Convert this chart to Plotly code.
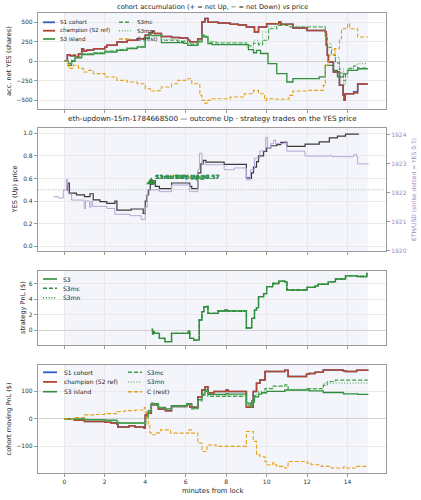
import plotly.graph_objects as go

# ---------------- data ----------------
X_TICKS = [0, 2, 4, 6, 8, 10, 12, 14]
WINDOW = [0, 15]            # shaded market window (minutes)
STRIKE_YES = 0.5

# panel 1 : accumulated net YES shares per cohort
champ_acc_t = [0.00, 0.15, 0.30, 0.45, 0.55, 0.70, 0.86, 0.95, 1.10, 1.45, 2.00, 2.10, 2.60, 3.10, 3.60,
               4.00, 4.20, 4.35, 4.45, 4.80, 5.30, 5.70, 6.10, 6.20, 6.60, 6.80, 6.95, 7.10, 7.60, 8.20,
               8.60, 9.00, 9.40, 9.60, 10.00, 10.60, 10.70, 11.30, 12.00, 12.90, 12.95, 13.00, 13.05, 13.30,
               13.60, 13.78, 13.83, 13.88, 14.30, 14.50, 15.00]
champ_acc_v = [0, 85, 70, 78, 55, 93, 162, 128, 145, 162, 183, 205, 248, 269, 290,
               333, 367, 385, 355, 318, 305, 300, 270, 250, 290, 504, 550, 500, 490, 475,
               465, 440, 376, 440, 482, 504, 474, 427, 395, 380, 205, 77, -9, -137,
               -308, -432, -500, -415, -405, -290, -290]
s1_acc_t = champ_acc_t
s1_acc_v = [0, 85, 70, 78, 55, 93, 162, 128, 145, 162, 183, 205, 248, 269, 290,
            333, 367, 385, 355, 318, 305, 300, 270, 250, 290, 504, 550, 500, 490, 475,
            465, 440, 376, 440, 482, 504, 474, 427, 395, 380, 205, 77, -9, -137,
            -308, -432, -500, -415, -390, -290, -290]
s3_acc_t = [0.00, 0.20, 0.36, 0.53, 0.86, 1.44, 2.00, 2.60, 3.10, 3.60, 4.00, 4.20, 4.30, 4.80, 5.90,
            6.10, 6.60, 6.80, 6.90, 7.10, 7.30, 9.10, 9.35, 9.50, 9.70, 10.07, 10.50, 11.00, 11.30, 12.60,
            12.90, 13.30, 13.50, 13.80, 14.00, 14.50, 15.00]
s3_acc_v = [0, -51, 0, 43, 85, 98, 119, 140, 162, 183, 300, 345, 330, 240, 230,
            205, 248, 333, 311, 226, 215, 150, 110, 140, 100, -30, -159, -265, -222, -200,
            -51, -115, -200, -160, -115, -95, -95]
mc_acc_t = [0.00, 0.20, 0.36, 0.53, 0.86, 1.44, 2.00, 2.60, 3.10, 3.60, 4.00, 4.20, 4.30, 4.80, 5.60,
            6.10, 6.60, 6.80, 6.90, 7.10, 7.50, 9.00, 9.35, 9.60, 9.80, 10.10, 10.50, 11.15, 12.90, 13.00,
            13.20, 13.40, 13.60, 13.80, 13.90, 14.00, 14.30, 14.50, 15.00]
mc_acc_v = [0, -30, 10, 55, 95, 110, 130, 150, 170, 190, 300, 350, 330, 270, 255,
            220, 260, 340, 320, 245, 235, 200, 230, 210, 270, 418, 461, 440, 300, 180,
            80, -20, -150, -250, -150, -90, -60, -85, -85]
mn_acc_t = mc_acc_t
mn_acc_v = [0, -20, 15, 60, 100, 115, 135, 155, 175, 195, 310, 365, 340, 280, 265,
            230, 265, 345, 325, 255, 245, 183, 269, 230, 376, 440, 482, 450, 350, 230,
            150, 50, -100, -300, -200, -100, -50, -30, -30]
c_acc_t = [0.00, 0.20, 0.30, 0.45, 0.70, 0.94, 1.20, 1.44, 2.00, 2.60, 3.10, 3.60, 4.00, 4.25, 4.50,
           4.80, 5.30, 5.60, 6.00, 6.30, 6.70, 6.80, 6.95, 7.05, 7.20, 8.20, 8.90, 9.35, 9.60, 9.90,
           10.00, 10.50, 11.10, 11.30, 12.10, 12.80, 12.90, 13.05, 13.10, 13.35, 13.60, 13.70, 13.90, 14.00,
           14.10, 14.50, 15.00]
c_acc_v = [0, -73, -90, -51, -90, -137, -116, -158, -201, -244, -266, -287, -351, -380, -375,
           -330, -287, -244, -223, -287, -437, -500, -540, -500, -479, -457, -415, -372, -415, -500,
           -479, -486, -437, -380, -372, -308, -51, 0, 77, 162, 290, 418, 440, 482,
           418, 311, 311]

# panel 2 : YES price and ETH/USD
yes_t = [0.12, 0.18, 0.25, 0.60, 1.00, 1.27, 1.43, 1.76, 2.10, 2.50, 2.60, 3.30, 3.90, 4.00, 4.08,
         4.15, 4.25, 4.40, 4.50, 4.70, 5.30, 6.20, 6.30, 6.60, 6.75, 6.87, 7.00, 7.90, 9.00, 9.20,
         9.25, 9.35, 9.50, 9.60, 9.85, 10.00, 10.20, 10.50, 10.70, 11.00, 11.90, 12.60, 13.10, 13.50,
         13.90, 14.53]
yes_v = [0.50, 0.56, 0.47, 0.455, 0.44, 0.465, 0.41, 0.395, 0.38, 0.40, 0.32, 0.33, 0.29, 0.40, 0.45,
         0.50, 0.55, 0.58, 0.53, 0.51, 0.56, 0.53, 0.51, 0.65, 0.73, 0.76, 0.745, 0.725, 0.605, 0.60,
         0.65, 0.70, 0.75, 0.80, 0.84, 0.87, 0.89, 0.90, 0.92, 0.885, 0.905, 0.925, 0.96, 0.975,
         0.992, 0.988]
eth_t = [-0.54, -0.30, -0.05, 0.10, 0.15, 0.20, 0.36, 0.98, 1.05, 1.25, 1.32, 1.40, 2.10, 2.50, 3.25,
         3.80, 4.00, 4.10, 4.20, 4.70, 5.30, 6.20, 6.60, 6.68, 6.80, 7.00, 7.90, 8.40, 9.00, 9.20,
         9.40, 9.67, 9.95, 10.05, 10.20, 10.35, 10.45, 10.90, 11.00, 11.90, 13.10, 13.20, 14.30, 14.45,
         14.50, 15.02]
eth_v = [1921.87, 1921.82, 1922.10, 1922.47, 1922.30, 1921.96, 1921.75, 1921.46, 1921.72, 1921.50,
         1921.70, 1921.53, 1921.46, 1921.26, 1921.21, 1921.08, 1921.50, 1921.92, 1922.10, 1922.04,
         1922.27, 1922.04, 1922.80, 1923.37, 1923.00, 1922.97, 1922.80, 1922.86, 1922.45, 1922.80,
         1923.20, 1923.45, 1923.92, 1923.55, 1923.70, 1923.82, 1923.70, 1923.78, 1923.44, 1923.27,
         1923.30, 1923.25, 1923.32, 1923.25, 1923.00, 1922.98]
trade_t = [4.30]
trade_v = [0.57]
trade_labels = ["S3 BUY Up@0.57", "S3mc BUY Up@0.57", "S3mn BUY Up@0.57"]

# panel 3 : strategy PnL (S3, S3mc, S3mn coincide)
strat_t = [4.32, 4.36, 4.40, 4.45, 4.70, 4.97, 5.30, 6.13, 6.20, 6.40, 6.67, 6.80, 6.90, 7.03, 7.10,
           7.60, 7.95, 8.05, 8.90, 9.00, 9.20, 9.26, 9.40, 9.50, 9.60, 9.85, 10.00, 10.30, 10.60, 10.90,
           11.00, 12.00, 12.40, 12.55, 13.05, 13.40, 13.90, 14.50, 14.95, 15.00]
strat_v = [0.09, -0.5, -0.2, -0.43, -1.07, -1.5, -0.43, -0.15, -1.07, -1.3, 1.29, 2.37, 3.0, 3.05, 2.15,
           2.45, 2.6, 2.45, 2.5, 0.26, 0.3, 1.5, 2.6, 2.9, 4.3, 4.7, 5.6, 6.0, 6.3, 6.2,
           5.16, 5.5, 5.7, 5.9, 6.2, 6.58, 6.97, 6.9, 7.3, 7.3]
STRATS = ["S3", "S3mc", "S3mn"]

# panel 4 : cohort moving PnL
champ_pnl_t = [0.0, 0.5, 1.0, 1.5, 2.0, 2.3, 2.6, 2.65, 3.2, 3.5, 3.95, 4.0, 4.07, 4.3, 4.65,
               5.0, 5.3, 6.05, 6.2, 6.6, 6.8, 6.95, 7.1, 7.4, 8.0, 8.1, 9.0, 9.34, 9.5, 9.67,
               9.92, 10.9, 11.06, 11.97, 12.1, 12.4, 12.8, 13.78, 13.9, 14.45, 15.0]
champ_pnl_v = [0, -5, -9.7, -10, -12, -15, -19, -30, -25, -30, -34, 14.5, 20, 51, 36,
               29.7, 44.8, 52, 42, 80, 105, 117, 95, 100, 105, 100, 42, 100, 130, 141,
               172, 177, 154, 162, 165, 170, 178, 175, 172, 177, 175]
s1_pnl_t = champ_pnl_t
s1_pnl_v = champ_pnl_v
s3_pnl_t = [0.0, 1.0, 2.0, 2.6, 2.7, 4.0, 4.02, 4.15, 4.3, 4.4, 4.65, 5.0, 5.3, 6.05, 6.3,
            6.6, 6.8, 6.95, 7.1, 8.0, 8.1, 9.0, 9.2, 9.26, 9.4, 9.6, 9.75, 10.0, 10.9, 12.1,
            12.8, 13.8, 14.5, 15.0]
s3_pnl_v = [0, -3, -5, -13, -15, -18.8, 8.5, 30, 57, 55, 42, 36, 48, 55, 39,
            70, 90, 105, 89, 92, 90, 57, 45, 65, 80, 90, 95, 100, 105, 102,
            96, 91, 89, 88]
mc_pnl_t = [0.0, 1.0, 2.0, 2.6, 2.7, 4.0, 4.02, 4.15, 4.3, 4.4, 4.65, 5.0, 5.3, 6.05, 6.3,
            6.6, 6.8, 6.95, 7.1, 8.0, 8.1, 9.0, 9.2, 9.26, 9.4, 9.6, 9.92, 10.3, 10.9, 11.06,
            12.0, 12.8, 13.0, 13.4, 15.0]
mc_pnl_v = [0, -4, -7, -14, -17, -20, 6, 28, 55, 52, 40, 33, 45, 52, 36,
            65, 85, 100, 82, 84, 82, 50, 42, 60, 85, 95, 110, 119, 124, 105,
            110, 122, 136, 141, 141]
mn_pnl_t = [0.0, 1.0, 2.0, 2.6, 2.7, 4.0, 4.02, 4.15, 4.3, 4.4, 4.65, 5.0, 5.3, 6.05, 6.3,
            6.6, 6.8, 6.95, 7.1, 8.0, 8.1, 9.0, 9.2, 9.26, 9.4, 9.6, 9.92, 10.3, 10.9, 11.06,
            12.0, 12.8, 15.0]
mn_pnl_v = [0, -3, -6, -12, -16, -19, 7, 29, 56, 53, 41, 34, 46, 53, 37,
            67, 87, 102, 84, 86, 84, 52, 44, 62, 88, 100, 112, 118, 120, 108,
            110, 130, 128]
c_pnl_t = [0.0, 0.5, 1.0, 1.5, 2.0, 2.6, 3.0, 3.5, 3.95, 4.0, 4.07, 4.15, 4.23, 4.3, 4.5,
           4.75, 5.25, 6.15, 6.3, 6.6, 6.8, 7.05, 7.5, 9.0, 9.34, 9.5, 9.67, 9.92, 10.0, 10.3,
           10.4, 10.5, 10.9, 11.06, 12.0, 12.2, 12.7, 13.2, 13.8, 13.9, 14.4, 15.0]
c_pnl_v = [0, 5, 14.5, 16, 19, 27, 30, 32, 41, 25, 2.4, -20, -51, -58, -51,
           -40, -52, -40, -52, -88, -119, -95, -100, -46, -82, -131, -138, -155, -167, -160,
           -167, -173, -179, -155, -161, -167, -173, -179, -175, -179, -173, -173]

SERIES = ["S1 cohort", "champion (S2 ref)", "S3 island", "S3mc", "S3mn", "C (rest)"]

# ---------------- styling ----------------
FONT = "DejaVu Sans"
STYLE = {
    "S1 cohort":         dict(color="#2a5fc4", width=1.5, dash="solid"),
    "champion (S2 ref)": dict(color="#b5462c", width=1.5, dash="solid"),
    "S3 island":         dict(color="#2f8d3d", width=1.3, dash="solid"),
    "S3mc":              dict(color="#3f9d4a", width=1.1, dash="4px,2px"),
    "S3mn":              dict(color="#62b862", width=1.1, dash="1px,1.8px"),
    "C (rest)":          dict(color="#e3a21a", width=1.1, dash="4px,2px"),
}
STRAT_STYLE = {
    "S3":   dict(color="#2f8d3d", width=1.3, dash="solid"),
    "S3mc": dict(color="#2f8d3d", width=1.3, dash="4px,2px"),
    "S3mn": dict(color="#2f8d3d", width=1.3, dash="1px,1.8px"),
}
GRID = "#e9e9e9"
FRAME = "#9a9a9a"
SHADE = "#f3f5fa"
PURPLE = "#9c86c6"

W, H = 421, 500
ML, MR, MT, MB = 38, 35, 13, 27
PW, PH = W - ML - MR, H - MT - MB


def px_x(px):
    return (px - ML) / PW


def px_y(py):
    return (H - MB - py) / PH


DOM = {
    1: [px_y(109), px_y(13)],
    2: [px_y(251), px_y(128)],
    3: [px_y(345.3), px_y(270.7)],
    4: [0.0, px_y(365)],
}

fig = go.Figure()


def add_line(t, v, xa, ya, style, name):
    fig.add_trace(go.Scatter(
        x=t, y=v, mode="lines", line_shape="hv", name=name, showlegend=False,
        xaxis=xa, yaxis=ya, hoverinfo="skip",
        line=dict(color=style["color"], width=style["width"], dash=style["dash"])))


# panel 1
p1 = {
    "S1 cohort": (s1_acc_t, s1_acc_v),
    "champion (S2 ref)": (champ_acc_t, champ_acc_v),
    "S3 island": (s3_acc_t, s3_acc_v),
    "S3mc": (mc_acc_t, mc_acc_v),
    "S3mn": (mn_acc_t, mn_acc_v),
    "C (rest)": (c_acc_t, c_acc_v),
}
for name in SERIES:
    t, v = p1[name]
    add_line(t, v, "x", "y", STYLE[name], name)

# panel 2
fig.add_trace(go.Scatter(x=eth_t, y=eth_v, mode="lines", line_shape="hv", name="ETH/USD",
                         showlegend=False, xaxis="x2", yaxis="y5", hoverinfo="skip",
                         line=dict(color="#b7a6d8", width=1.0)))
fig.add_trace(go.Scatter(x=yes_t, y=yes_v, mode="lines", line_shape="hv", name="YES",
                         showlegend=False, xaxis="x2", yaxis="y2", hoverinfo="skip",
                         line=dict(color="#3a3a3a", width=1.2)))
fig.add_trace(go.Scatter(x=trade_t, y=trade_v, mode="markers", name="trades", showlegend=False,
                         xaxis="x2", yaxis="y2", hoverinfo="skip",
                         marker=dict(symbol="triangle-up", size=9, color="#2f8d3d")))
for lab in trade_labels:
    fig.add_annotation(x=trade_t[0], y=trade_v[0], xref="x2", yref="y2", text="<b>%s</b>" % lab,
                       showarrow=False, xanchor="left", yanchor="middle", xshift=2, yshift=4,
                       font=dict(family=FONT, size=5.8, color="#2f8d3d"))

# panel 3
for name in ["S3mn", "S3mc", "S3"]:
    add_line(strat_t, strat_v, "x3", "y3", STRAT_STYLE[name], name)

# panel 4
p4 = {
    "S1 cohort": (s1_pnl_t, s1_pnl_v),
    "champion (S2 ref)": (champ_pnl_t, champ_pnl_v),
    "S3 island": (s3_pnl_t, s3_pnl_v),
    "S3mc": (mc_pnl_t, mc_pnl_v),
    "S3mn": (mn_pnl_t, mn_pnl_v),
    "C (rest)": (c_pnl_t, c_pnl_v),
}
for name in SERIES:
    t, v = p4[name]
    add_line(t, v, "x4", "y4", STYLE[name], name)

# ---------------- axes ----------------
tickfont = dict(family=FONT, size=6, color="#333333")
xcommon = dict(range=[-1.3, 15.9], tickvals=X_TICKS, showgrid=True, gridcolor=GRID, gridwidth=0.8,
               showline=True, mirror=True, linecolor=FRAME, linewidth=1.2, ticks="outside",
               ticklen=3, tickcolor=FRAME, zeroline=False, tickfont=tickfont)
ycommon = dict(showgrid=True, gridcolor=GRID, gridwidth=0.8, showline=True, mirror=True,
               linecolor=FRAME, linewidth=1.2, ticks="outside", ticklen=3, tickcolor=FRAME,
               tickfont=tickfont, zeroline=True, zerolinecolor="#d2d2d2", zerolinewidth=1)

fig.update_layout(
    xaxis=dict(xcommon, anchor="y", showticklabels=False),
    xaxis2=dict(xcommon, anchor="y2", matches="x", showticklabels=False),
    xaxis3=dict(xcommon, anchor="y3", matches="x", showticklabels=False),
    xaxis4=dict(xcommon, anchor="y4", matches="x", showticklabels=True),
    yaxis=dict(ycommon, domain=DOM[1], anchor="x", range=[-611, 619],
               tickvals=[-500, -250, 0, 250, 500]),
    yaxis2=dict(ycommon, domain=DOM[2], anchor="x2", range=[-0.042, 1.047],
                tickvals=[0, 0.2, 0.4, 0.6, 0.8, 1.0], tickformat=".1f", zeroline=False),
    yaxis3=dict(ycommon, domain=DOM[3], anchor="x3", range=[-1.97, 7.65], tickvals=[0, 2, 4, 6]),
    yaxis4=dict(ycommon, domain=DOM[4], anchor="x4", range=[-197, 196], tickvals=[-100, 0, 100]),
    yaxis5=dict(overlaying="y2", side="right", anchor="x2", range=[1919.99, 1924.24],
                tickvals=[1920, 1921, 1922, 1923, 1924], showgrid=False, zeroline=False,
                showline=False, ticks="outside", ticklen=3, tickcolor=PURPLE,
                tickfont=dict(family=FONT, size=6, color=PURPLE)),
)

# shaded window + strike line
for xr, yr in [("x", "y"), ("x2", "y2"), ("x3", "y3"), ("x4", "y4")]:
    fig.add_shape(type="rect", xref=xr, yref=yr + " domain", x0=WINDOW[0], x1=WINDOW[1], y0=0, y1=1,
                  fillcolor=SHADE, line=dict(width=0), layer="below")
fig.add_shape(type="line", xref="x2 domain", yref="y2", x0=0, x1=1, y0=STRIKE_YES, y1=STRIKE_YES,
              line=dict(color="#b5b5b5", width=1, dash="1px,1.5px"))

# ---------------- texts ----------------
def text(px, py, s, size, color="#222222", angle=0, anchor="center"):
    fig.add_annotation(xref="paper", yref="paper", x=px_x(px), y=px_y(py), text=s, showarrow=False,
                       xanchor=anchor, yanchor="middle", textangle=angle,
                       font=dict(family=FONT, size=size, color=color))


text(212, 7, "cohort accumulation (+ = net Up, \u2212 = net Down) vs price", 6.6)
text(212, 118, "eth-updown-15m-1784668500 \u2014 outcome Up \u00b7 strategy trades on the YES price", 7.2)
text(9, 61, "acc. net YES (shares)", 6.6, angle=-90)
text(15, 189.5, "YES (Up) price", 6.6, angle=-90)
text(23, 308, "strategy PnL ($)", 6.6, angle=-90)
text(8.5, 419, "cohort moving PnL ($)", 6.6, angle=-90)
text(413, 190, "ETH/USD (strike dotted = YES 0.5)", 6.0, color=PURPLE, angle=-90)
text(212, 491, "minutes from lock", 6.8)


# ---------------- legends ----------------
def legend_entry(name, style, x_line, x_text, py, size, line_len=13):
    fig.add_shape(type="line", xref="paper", yref="paper", x0=px_x(x_line), x1=px_x(x_line + line_len),
                  y0=px_y(py), y1=px_y(py),
                  line=dict(color=style["color"], width=style["width"] + 0.3, dash=style["dash"]))
    text(x_text, py, name, size, anchor="left")


rows1 = [22.3, 30.7, 39.0]
for i, name in enumerate(SERIES[:3]):
    legend_entry(name, STYLE[name], 43, 58, rows1[i], 5.6, 12)
for i, name in enumerate(SERIES[3:]):
    legend_entry(name, STYLE[name], 119, 135, rows1[i], 5.6, 12)

rows3 = [279.0, 288.3, 297.7]
for i, name in enumerate(STRATS):
    legend_entry(name, STRAT_STYLE[name], 43, 61, rows3[i], 6.0, 14)

rows4 = [372.3, 381.9, 391.7]
for i, name in enumerate(SERIES[:3]):
    legend_entry(name, STYLE[name], 43, 61.5, rows4[i], 6.0, 14)
for i, name in enumerate(SERIES[3:]):
    legend_entry(name, STYLE[name], 128, 145, rows4[i], 6.0, 14)

fig.update_layout(
    width=W, height=H, margin=dict(l=ML, r=MR, t=MT, b=MB),
    paper_bgcolor="white", plot_bgcolor="white", showlegend=False,
    font=dict(family=FONT, size=6, color="#222222"),
)

fig.write_html("out.html")
